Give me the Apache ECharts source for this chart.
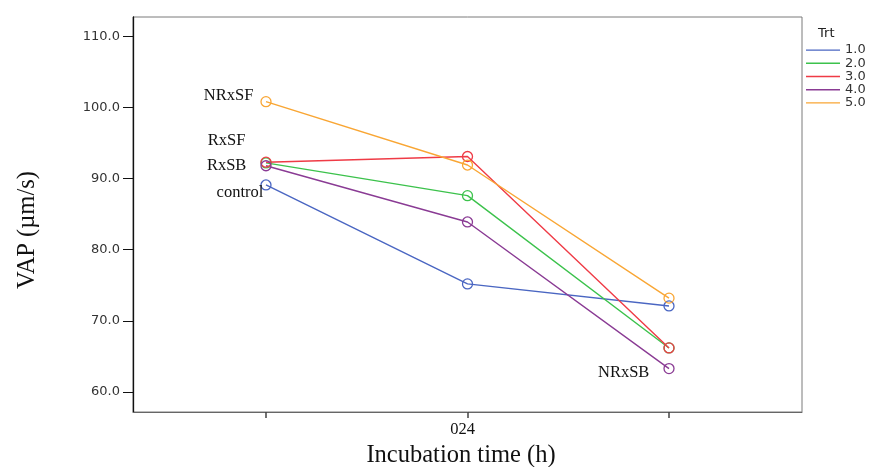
<!DOCTYPE html>
<html>
<head>
<meta charset="utf-8">
<script src="https://cdn.jsdelivr.net/npm/echarts@6/dist/echarts.min.js"></script>
<style>
  html, body { margin: 0; padding: 0; background: #fff; }
  #chart { width: 870px; height: 467px; }
</style>
</head>
<body>
<div id="chart"></div>
<script>
// Incubation time points (h), plotted at positions 0, 1, 2
const timePoints = ['0', '2', '4'];
const timePos = [0, 1, 2];

// Treatment groups
const treatments = ['1.0', '2.0', '3.0', '4.0', '5.0'];

// Mean VAP (µm/s) per treatment at each time point
const vapT1 = [89.1, 75.2, 72.1];
const vapT2 = [92.2, 87.6, 66.2];
const vapT3 = [92.3, 93.1, 66.2];
const vapT4 = [91.8, 83.9, 63.3];
const vapT5 = [100.8, 91.9, 73.2];

// Y tick values
const yTicks = [60, 70, 80, 90, 100, 110];

// Group names written next to selected points: [series index, point index, text]
const pointNotes = [
  [4, 0, 'NRxSF'],
  [2, 0, 'RxSF'],
  [3, 0, 'RxSB'],
  [0, 0, 'control'],
  [3, 2, 'NRxSB']
];

const seriesValues = [vapT1, vapT2, vapT3, vapT4, vapT5];
const colors = ['#4a66c2', '#3cc24c', '#ef3b46', '#8a3b94', '#f9a634'];

// Per-note label placement
const noteStyle = {
  'NRxSF':   { offset: [-4, -6] },
  'RxSF':    { offset: [-12, -22] },
  'RxSB':    { offset: [-11, 0] },
  'control': { offset: [6, 8] },
  'NRxSB':   { offset: [-11, 4] }
};

const serif = '"Liberation Serif", "Times New Roman", serif';
const sans = '"DejaVu Sans", Arial, sans-serif';

const series = seriesValues.map((vals, si) => ({
  name: treatments[si],
  type: 'line',
  symbol: 'circle',
  symbolSize: 10,
  showAllSymbol: true,
  lineStyle: { width: 1.4, color: colors[si] },
  itemStyle: { color: 'rgba(255,255,255,0)', borderWidth: 1.3, borderColor: colors[si] },
  emphasis: { disabled: true },
  data: vals.map((v, i) => {
    const item = { value: [timePos[i], v] };
    const note = pointNotes.find(n => n[0] === si && n[1] === i);
    if (note) {
      item.label = {
        show: true,
        position: 'left',
        distance: 3,
        formatter: note[2],
        fontFamily: serif,
        fontSize: 16.5,
        color: '#111',
        offset: noteStyle[note[2]].offset
      };
    }
    return item;
  })
}));

const chart = echarts.init(document.getElementById('chart'), null, { renderer: 'canvas' });
chart.setOption({
  animation: false,
  backgroundColor: '#fff',
  grid: {
    left: 133, top: 17, right: 68, bottom: 55,
    show: true, borderColor: '#7a7a7a', borderWidth: 1
  },
  title: {
    text: 'Trt',
    left: 818, top: 27, padding: 0,
    textStyle: { fontFamily: sans, fontSize: 13, fontWeight: 'normal', color: '#222' }
  },
  legend: {
    orient: 'vertical',
    left: 806, top: 43.5, padding: 0,
    icon: 'rect',
    itemWidth: 34, itemHeight: 1.4,
    itemGap: 0,
    textStyle: { fontFamily: sans, fontSize: 13, color: '#333', lineHeight: 13.2 },
    data: treatments.map((t, i) => ({ name: t, itemStyle: { color: colors[i], borderWidth: 0 } }))
  },
  xAxis: {
    type: 'value',
    min: -0.66, max: 2.66,
    splitLine: { show: false },
    axisLine: { onZero: false, lineStyle: { color: '#666', width: 1 } },
    axisTick: {
      show: true, length: 6, inside: false,
      customValues: timePos,
      lineStyle: { color: '#444', width: 1.5 }
    },
    axisLabel: {
      customValues: [1],
      formatter: () => timePoints.join(''),
      fontFamily: serif, fontSize: 16.5, color: '#111',
      margin: 9, padding: [0, 10, 0, 0]
    }
  },
  yAxis: {
    type: 'value',
    min: 57.2, max: 112.7,
    splitLine: { show: false },
    axisLine: { show: true, onZero: false, lineStyle: { color: '#111', width: 1.3 } },
    axisTick: {
      show: true, length: 10,
      customValues: yTicks,
      lineStyle: { color: '#111', width: 1 }
    },
    axisLabel: {
      customValues: yTicks,
      formatter: v => v.toFixed(1),
      fontFamily: sans, fontSize: 13, color: '#333', margin: 13
    }
  },
  graphic: [
    {
      type: 'text',
      x: 461, y: 456,
      style: {
        text: 'Incubation time (h)',
        font: '24.5px ' + serif,
        fill: '#111',
        align: 'center', verticalAlign: 'middle'
      }
    },
    {
      type: 'text',
      x: 28, y: 230,
      rotation: Math.PI / 2,
      style: {
        text: 'VAP (µm/s)',
        font: '24.5px ' + serif,
        fill: '#111',
        align: 'center', verticalAlign: 'middle'
      }
    }
  ],
  series: series
});
</script>
</body>
</html>
